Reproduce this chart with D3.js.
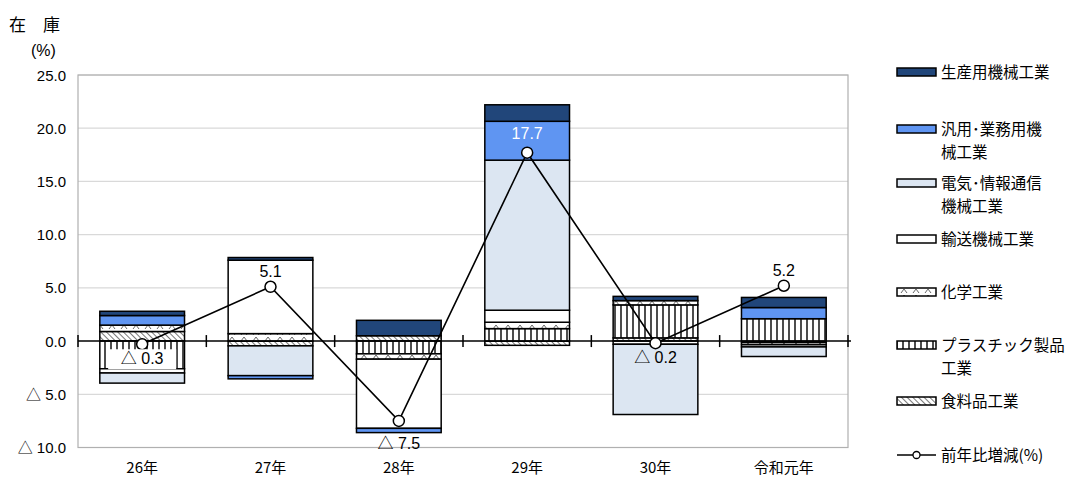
<!DOCTYPE html>
<html>
<head>
<meta charset="utf-8">
<script src="https://cdn.jsdelivr.net/npm/d3@7"></script>
<style>
body { margin: 0; background: #fff; }
text { font-family: "Liberation Sans", "Noto Sans CJK JP", sans-serif; fill: #000; }
.jp { font-family: "Noto Sans CJK JP", sans-serif; }
</style>
</head>
<body>
<div class="svg-container"></div>
<script>
// data
const years = ["26年", "27年", "28年", "29年", "30年", "令和元年"];
const food       = [0.9, -0.45, 0.5, -0.4, 0.3, -0.15];
const plastic    = [-2.6, 0, -1.2, 1.17, 3.1, 2.1];
const chemical   = [0.6, 0.7, -0.5, 0.6, 0.4, -0.2];
const transport  = [-0.4, 6.9, -6.5, 1.13, -0.3, -0.2];
const electric   = [-0.95, -2.8, 0, 14.1, -6.6, -0.9];
const general    = [0.9, -0.3, -0.4, 3.65, 0, 1.05];
const production = [0.4, 0.25, 1.45, 1.55, 0.4, 0.95];
const total      = [-0.3, 5.1, -7.5, 17.7, -0.2, 5.2];
const yTicks = [-10, -5, 0, 5, 10, 15, 20, 25];

const seriesKeys = ["food", "plastic", "chemical", "transport", "electric", "general", "production"];
const seriesVals = {food, plastic, chemical, transport, electric, general, production};
const seriesNames = {
    production: ["生産用機械工業"],
    general: ["汎用･業務用機", "械工業"],
    electric: ["電気･情報通信", "機械工業"],
    transport: ["輸送機械工業"],
    chemical: ["化学工業"],
    plastic: ["プラスチック製品", "工業"],
    food: ["食料品工業"]
};
const fills = {
    production: "#21467A",
    general: "#5F95F2",
    electric: "#DCE6F2",
    transport: "#ffffff",
    chemical: "url(#pChem)",
    plastic: "url(#pPlas)",
    food: "url(#pFood)"
};

const w = 1083, h = 479;
const margin = {top: 75, right: 235, bottom: 31, left: 78};

const svg = d3.select(".svg-container").append("svg")
    .attr("width", w).attr("height", h);

// patterns
const defs = svg.append("defs");
const pc = defs.append("pattern").attr("id", "pChem").attr("patternUnits", "userSpaceOnUse")
    .attr("width", 12).attr("height", 6);
pc.append("rect").attr("width", 12).attr("height", 6).attr("fill", "#fff");
pc.append("path").attr("d", "M1,5 L4,1 L7,5").attr("fill", "none").attr("stroke", "#666").attr("stroke-width", 1);
const pp = defs.append("pattern").attr("id", "pPlas").attr("patternUnits", "userSpaceOnUse")
    .attr("width", 6).attr("height", 6);
pp.append("rect").attr("width", 6).attr("height", 6).attr("fill", "#fff");
pp.append("line").attr("x1", 3).attr("x2", 3).attr("y1", 0).attr("y2", 6).attr("stroke", "#000").attr("stroke-width", 1.4);
const pf = defs.append("pattern").attr("id", "pFood").attr("patternUnits", "userSpaceOnUse")
    .attr("width", 4).attr("height", 4).attr("patternTransform", "rotate(-45)");
pf.append("rect").attr("width", 4).attr("height", 4).attr("fill", "#fff");
pf.append("line").attr("x1", 0).attr("x2", 0).attr("y1", 0).attr("y2", 4).attr("stroke", "#555").attr("stroke-width", 1.6);

const x = d3.scaleBand().domain(years)
    .range([margin.left, w - margin.right])
    .paddingInner(0.34).paddingOuter(0.17);
const y = d3.scaleLinear().domain([-10, 25]).range([h - margin.bottom - 0.5, margin.top]);

// grid
svg.append("g").selectAll("line").data(yTicks.filter(d => d !== 0)).enter()
    .append("line")
    .attr("x1", margin.left).attr("x2", w - margin.right)
    .attr("y1", d => y(d)).attr("y2", d => y(d))
    .attr("stroke", "#d9d9d9").attr("stroke-width", 1.2);
svg.append("rect")
    .attr("x", margin.left).attr("y", y(25))
    .attr("width", w - margin.right - margin.left).attr("height", y(-10) - y(25))
    .attr("fill", "none").attr("stroke", "#b0b0b0").attr("stroke-width", 1.2);

// y tick labels
svg.append("g").selectAll("text").data(yTicks).enter()
    .append("text")
    .attr("x", 66).attr("y", d => y(d) + 5.5)
    .attr("text-anchor", "end").style("font-size", "15px")
    .text(d => d < 0 ? "△ " + d3.format(".1f")(-d) : d3.format(".1f")(d));

svg.append("text").attr("class", "jp").attr("x", 9).attr("y", 31)
    .style("font-size", "17px").text("在　庫");
svg.append("text").attr("x", 31).attr("y", 56)
    .style("font-size", "16px").text("(%)");

// bars
const rows = years.map((yr, i) => {
    const r = {year: yr};
    seriesKeys.forEach(k => r[k] = seriesVals[k][i]);
    return r;
});
const stack = d3.stack().keys(seriesKeys).offset(d3.stackOffsetDiverging);
const stacked = stack(rows);

svg.append("g").selectAll("g").data(stacked).enter()
    .append("g")
    .attr("fill", d => fills[d.key])
    .selectAll("rect").data(d => d).enter()
    .append("rect")
    .attr("x", d => x(d.data.year))
    .attr("y", d => y(Math.max(d[0], d[1])))
    .attr("width", x.bandwidth())
    .attr("height", d => Math.abs(y(d[0]) - y(d[1])))
    .attr("stroke", "#000").attr("stroke-width", 1.5);

// zero axis
const x0 = margin.left, x1 = w - margin.right;
svg.append("line").attr("x1", x0).attr("x2", x1 + 3)
    .attr("y1", y(0)).attr("y2", y(0))
    .attr("stroke", "#000").attr("stroke-width", 1.5);
svg.append("g").selectAll("line").data(d3.range(years.length + 1)).enter()
    .append("line")
    .attr("x1", i => x0 + i * x.step()).attr("x2", i => x0 + i * x.step())
    .attr("y1", y(0) - 6).attr("y2", y(0) + 6)
    .attr("stroke", "#000").attr("stroke-width", 1.5);

// category labels
svg.append("g").selectAll("text").data(years).enter()
    .append("text").attr("class", "jp")
    .attr("x", d => x(d) + x.bandwidth() / 2).attr("y", 473)
    .attr("text-anchor", "middle").style("font-size", "15px")
    .text(d => d);

// line
const cx = i => x(years[i]) + x.bandwidth() / 2;
svg.append("path")
    .attr("d", d3.line().x((d, i) => cx(i)).y(d => y(d))(total))
    .attr("fill", "none").attr("stroke", "#000").attr("stroke-width", 1.6);
svg.append("g").selectAll("circle").data(total).enter()
    .append("circle")
    .attr("cx", (d, i) => cx(i)).attr("cy", d => y(d)).attr("r", 5.5)
    .attr("fill", "#fff").attr("stroke", "#000").attr("stroke-width", 1.5);

// line labels
const fmt = v => v < 0 ? "△ " + d3.format(".1f")(-v) : d3.format(".1f")(v);
const place = ["inside", "above", "belowBar", "aboveWhite", "inside", "above"];
total.forEach((v, i) => {
    let ty, col = "#000";
    if (place[i] === "above") ty = y(v) - 10;
    else if (place[i] === "aboveWhite") ty = y(v) - 14;
    else if (place[i] === "inside") ty = y(v) + 20;
    else ty = y(d3.sum(seriesKeys, k => Math.min(0, seriesVals[k][i]))) + 16;
    if (place[i] === "aboveWhite") col = "#fff";
    if (i === 0) {
        svg.append("rect").attr("x", cx(i) - 34).attr("y", ty - 15)
            .attr("width", 68).attr("height", 20).attr("fill", "#fff");
    }
    svg.append("text").attr("x", cx(i)).attr("y", ty)
        .attr("text-anchor", "middle").style("font-size", "16px")
        .style("fill", col).text(fmt(v));
});

// legend
const lgX = 897, lgW = 39;
const legendRows = [
    {key: "production", y: 72},
    {key: "general", y: 129},
    {key: "electric", y: 183},
    {key: "transport", y: 239},
    {key: "chemical", y: 292},
    {key: "plastic", y: 345},
    {key: "food", y: 401}
];
const lg = svg.append("g");
legendRows.forEach(r => {
    lg.append("rect").attr("x", lgX).attr("y", r.y - 4).attr("width", lgW).attr("height", 8)
        .attr("fill", fills[r.key]).attr("stroke", "#000").attr("stroke-width", 1.5);
    seriesNames[r.key].forEach((t, j) => {
        lg.append("text").attr("class", "jp").attr("x", 941).attr("y", r.y + 6 + j * 23)
            .style("font-size", "15.5px").text(t);
    });
});
lg.append("line").attr("x1", lgX).attr("x2", lgX + lgW).attr("y1", 455).attr("y2", 455)
    .attr("stroke", "#000").attr("stroke-width", 1.5);
lg.append("circle").attr("cx", lgX + lgW / 2).attr("cy", 455).attr("r", 3.5)
    .attr("fill", "#fff").attr("stroke", "#000").attr("stroke-width", 1.3);
lg.append("text").attr("class", "jp").attr("x", 941).attr("y", 461)
    .style("font-size", "15.5px").text("前年比増減(%)");
</script>
</body>
</html>
